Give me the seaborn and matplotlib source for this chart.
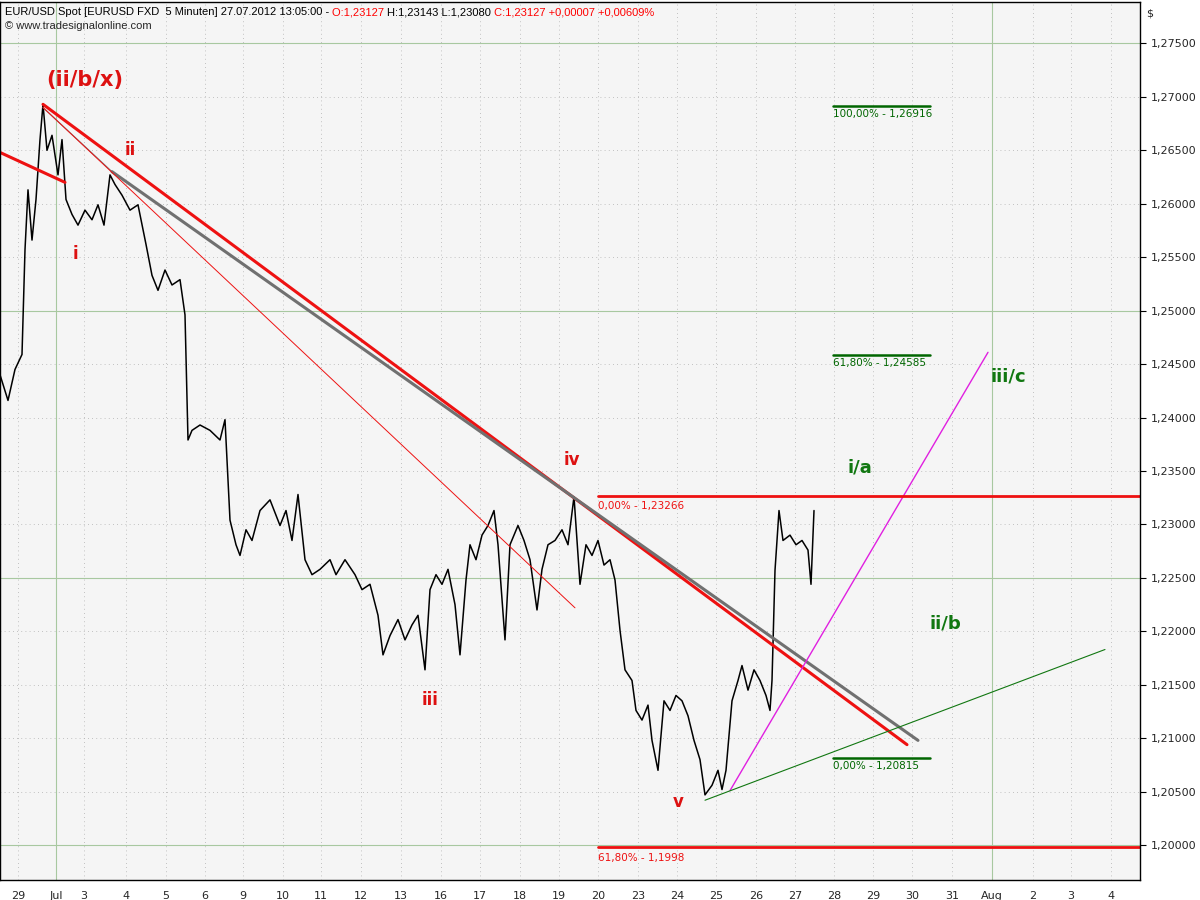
import matplotlib
matplotlib.use("Agg")
import matplotlib.pyplot as plt
import matplotlib.ticker as mticker
from matplotlib.transforms import offset_copy
import numpy as np
import pandas as pd
import seaborn as sns

# price path (x = chart position, y = price)
px = [0, 8, 15, 22, 25, 28, 32, 36, 40, 43, 47, 52, 58, 62, 66, 72, 78, 85, 92, 98,
      104, 110, 115, 122, 130, 138, 146, 152, 158, 165, 172, 180, 185, 188, 192, 200,
      210, 220, 225, 230, 236, 240, 246, 252, 260, 270, 280, 286, 292, 298, 305, 312,
      320, 330, 336, 345, 355, 362, 370, 378, 383, 390, 398, 405, 412, 418, 425, 430,
      436, 442, 448, 455, 460, 466, 470, 476, 482, 488, 494, 498, 505, 510, 518, 524,
      530, 537, 542, 548, 555, 562, 568, 574, 580, 586, 592, 598, 604, 610, 615, 620,
      625, 632, 636, 642, 648, 652, 658, 664, 670, 676, 682, 688, 694, 700, 705, 712,
      718, 722, 726, 732, 738, 742, 748, 754, 760, 766, 770, 772, 775, 779, 783, 790,
      796, 802, 808, 811, 814]
price = [1.2440, 1.2416, 1.2445, 1.2459, 1.2557, 1.2613, 1.2566, 1.2604, 1.2660, 1.2693,
         1.2650, 1.2664, 1.2627, 1.2660, 1.2604, 1.2590, 1.2580, 1.2594, 1.2585, 1.2599,
         1.2580, 1.2627, 1.2618, 1.2608, 1.2594, 1.2599, 1.2562, 1.2533, 1.2519, 1.2538,
         1.2524, 1.2529, 1.2496, 1.2379, 1.2388, 1.2393, 1.2388, 1.2379, 1.2398, 1.2304,
         1.2281, 1.2271, 1.2295, 1.2285, 1.2313, 1.2323, 1.2299, 1.2313, 1.2285, 1.2328,
         1.2267, 1.2253, 1.2258, 1.2267, 1.2253, 1.2267, 1.2253, 1.2239, 1.2244, 1.2215,
         1.2178, 1.2196, 1.2211, 1.2192, 1.2206, 1.2215, 1.2164, 1.2239, 1.2253, 1.2244,
         1.2258, 1.2225, 1.2178, 1.2248, 1.2281, 1.2267, 1.2290, 1.2299, 1.2313, 1.2281,
         1.2192, 1.2281, 1.2299, 1.2285, 1.2267, 1.2220, 1.2258, 1.2281, 1.2285, 1.2295,
         1.2281, 1.2326, 1.2244, 1.2281, 1.2271, 1.2285, 1.2262, 1.2267, 1.2248, 1.2201,
         1.2164, 1.2154, 1.2126, 1.2117, 1.2131, 1.2098, 1.2070, 1.2135, 1.2126, 1.2140,
         1.2135, 1.2121, 1.2098, 1.2080, 1.2047, 1.2056, 1.2070, 1.2052, 1.2070, 1.2135,
         1.2154, 1.2168, 1.2145, 1.2164, 1.2154, 1.2140, 1.2126, 1.2154, 1.2257, 1.2313,
         1.2285, 1.2290, 1.2281, 1.2285, 1.2276, 1.2244, 1.2313]

day_labels = ["29", "Jul", "3", "4", "5", "6", "9", "10", "11", "12", "13", "16", "17",
              "18", "19", "20", "23", "24", "25", "26", "27", "28", "29", "30", "31",
              "Aug", "2", "3", "4"]
day_pos = [18, 56, 84, 126, 166, 205, 243, 283, 321, 361, 401, 441, 480, 520, 559,
           598, 638, 677, 716, 756, 795, 834, 873, 912, 952, 992, 1033, 1071, 1111]

# trend lines: (x0, y0, x1, y1, color, width)
trend_lines = [
    (0, 1.2648, 65, 1.2620, "#ee1111", 2.2),
    (43, 1.2693, 907, 1.2094, "#ee1111", 2.2),
    (43, 1.2690, 112, 1.2630, "#777777", 0.8),
    (112, 1.2630, 918, 1.2098, "#707070", 2.2),
    (43, 1.2690, 575, 1.2222, "#ee1111", 0.7),
    (730, 1.2051, 988, 1.2461, "#e020e0", 1.0),
    (705, 1.2042, 1105, 1.2183, "#117711", 0.8),
]
fib_red = [(1.23266, "0,00% - 1,23266"), (1.1998, "61,80% - 1,1998")]
fib_green = [(1.26916, "100,00% - 1,26916"), (1.24585, "61,80% - 1,24585"),
             (1.20815, "0,00% - 1,20815")]
wave_red = [("(ii/b/x)", 85, 1.2716, 15), ("ii", 130, 1.2650, 12), ("i", 75, 1.2553, 12),
            ("iii", 430, 1.2136, 12), ("iv", 572, 1.2360, 12), ("v", 678, 1.2040, 12)]
wave_green = [("i/a", 860, 1.2353, 13), ("iii/c", 1008, 1.2438, 13), ("ii/b", 945, 1.2207, 13)]
header = [("EUR/USD Spot [EURUSD FXD  5 Minuten] 27.07.2012 13:05:00 - ", "black"),
          ("O:1,23127 ", "red"), ("H:1,23143 L:1,23080 ", "black"),
          ("C:1,23127 +0,00007 +0,00609%", "red")]

sns.set_style("white")
plt.rcParams["font.family"] = ["DejaVu Sans"]
fig = plt.figure(figsize=(12, 9), dpi=100)
ax = fig.add_axes([0.0, 0.022, 0.95, 0.976])
ax.set_facecolor("#f5f5f5")
ax.set_xlim(0, 1140)
ax.set_ylim(1.19672, 1.27889)

# grid
for yv in np.arange(1.200, 1.2776, 0.005):
    if abs(round(yv / 0.025) * 0.025 - yv) < 1e-6:
        ax.axhline(yv, color="#a8c8a0", lw=0.8, zorder=0)
    else:
        ax.axhline(yv, color="#b0b0b0", lw=0.6, ls=(0, (1, 4)), zorder=0)
for p, lab in zip(day_pos, day_labels):
    if lab in ("Jul", "Aug"):
        ax.axvline(p, color="#a8c8a0", lw=0.8, zorder=0)
    else:
        ax.axvline(p, color="#b0b0b0", lw=0.6, ls=(0, (1, 4)), zorder=0)

df = pd.DataFrame({"x": px, "price": price})
sns.lineplot(data=df, x="x", y="price", sort=False, color="black", lw=1.1, ax=ax)

for x0, y0, x1, y1, c, w in trend_lines:
    ax.plot([x0, x1], [y0, y1], color=c, lw=w)

for yv, lab in fib_red:
    ax.plot([598, 1140], [yv, yv], color="#ee1111", lw=2.0)
    ax.text(598, yv - 0.0005, lab, color="#ee1111", fontsize=7.5, va="top",
            family="Liberation Sans Narrow")
for yv, lab in fib_green:
    ax.plot([833, 930], [yv, yv], color="#006600", lw=1.8)
    ax.text(833, yv - 0.0003, lab, color="#006600", fontsize=7.5, va="top",
            family="Liberation Sans Narrow")

for t, x, y, s in wave_red:
    ax.text(x, y, t, color="#dd1111", fontsize=s, fontweight="bold", ha="center", va="center")
for t, x, y, s in wave_green:
    ax.text(x, y, t, color="#117711", fontsize=s, fontweight="bold", ha="center", va="center")

ax.set_xticks(day_pos)
ax.set_xticklabels(day_labels)
ax.yaxis.tick_right()
ax.set_yticks(np.arange(1.200, 1.2776, 0.005))
ax.yaxis.set_major_formatter(mticker.FuncFormatter(lambda v, _: f"{v:.5f}".replace(".", ",")))
ax.tick_params(axis="both", labelsize=8, length=4, direction="out", color="black")
ax.set_xlabel("")
ax.set_ylabel("")
for s in ax.spines.values():
    s.set_color("black")
    s.set_linewidth(1.0)

# header: chained coloured pieces
fig.canvas.draw()
renderer = fig.canvas.get_renderer()
trans = ax.transAxes
x_off = 0
for txt, col in header:
    t = ax.text(0.004, 0.994, txt, color=col, fontsize=8, va="top",
                family="Liberation Sans", transform=offset_copy(trans, fig=fig, x=x_off, units="dots"))
    x_off += t.get_window_extent(renderer).width
ax.text(0.004, 0.978, "\u00a9 www.tradesignalonline.com", transform=trans,
        fontsize=8, va="top", family="Liberation Sans")
fig.text(0.955, 0.99, "$", fontsize=8, va="top")

fig.savefig("out.png", dpi=100)
